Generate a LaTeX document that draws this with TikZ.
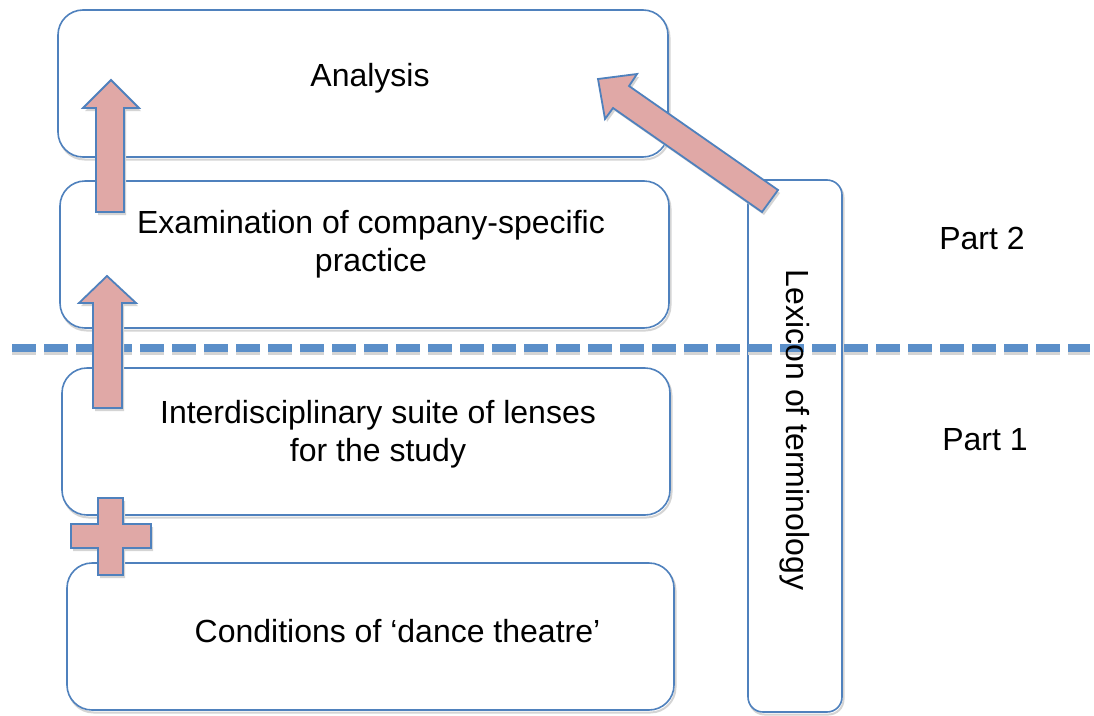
\documentclass[tikz,border=0pt]{standalone}
\usepackage{fontspec}
\setmainfont{Liberation Sans}
\usetikzlibrary{shadows}
\definecolor{boxblue}{RGB}{79,129,189}
\definecolor{dashblue}{RGB}{91,143,201}
\definecolor{arrowpink}{RGB}{224,168,166}
\definecolor{shadowgray}{RGB}{212,212,212}
\begin{document}
\begin{tikzpicture}[x=1pt,y=-1pt,
  stagebox/.style={draw=boxblue, line width=1.6pt, fill=white, rounded corners=25pt, inner sep=0pt,
    general shadow={draw=shadowgray, line width=2pt, shadow xshift=1.5pt, shadow yshift=-2.5pt}},
  lexbox/.style={stagebox, rounded corners=15pt},
  txt/.style={font=\fontsize{32}{38}\selectfont, align=center, inner sep=0pt},
  blockarrow/.style={fill=arrowpink, draw=boxblue, line width=1.8pt, line join=miter},
  arrowshadow/.style={fill=shadowgray, draw=none},
  dashline/.style={draw=dashblue, line width=8pt, dash pattern=on 24pt off 8pt},
  dashshadow/.style={draw=shadowgray, line width=8pt, dash pattern=on 24pt off 8pt}]
\useasboundingbox (0,0) rectangle (1094,715);
% boxes
\node[stagebox, minimum width=610pt, minimum height=147pt] (analysis) at (363,83.5) {};
\node[stagebox, minimum width=609pt, minimum height=147pt] (exam) at (364.5,254.5) {};
\node[stagebox, minimum width=608pt, minimum height=147pt] (inter) at (366,441.5) {};
\node[stagebox, minimum width=607pt, minimum height=147pt] (cond) at (370.5,636.5) {};
\node[lexbox, minimum width=94pt, minimum height=532pt] (lexicon) at (795,446) {};
% dashed separator
\coordinate (dashL) at (12,348);
\coordinate (dashR) at (1090,348);
\draw[dashshadow] ([shift={(0pt,-3pt)}]dashL) -- ([shift={(0pt,-3pt)}]dashR);
\draw[dashline] (dashL) -- (dashR);
% texts
\node[txt] (analysisText) at (370,78) {Analysis};
\node[txt] (examText) at (371,244) {Examination of company-specific\\practice};
\node[txt] (interText) at (378,434) {Interdisciplinary suite of lenses\\for the study};
\node[txt] (condText) at (397.5,631) {Conditions of ‘dance theatre’};
\node[txt, rotate=-90] (lexText) at (795,430) {Lexicon of terminology};
\node[txt] (part2) at (982,238) {Part 2};
\node[txt] (part1) at (985,440) {Part 1};
% block arrows (shadows)
\begin{scope}[shift={(2,3)}]
\fill[arrowshadow] (96,212) -- (96,108) -- (83,108) -- (111,80) -- (139,108) -- (124,108) -- (124,212) -- cycle;
\fill[arrowshadow] (93,408) -- (93,303) -- (79,303) -- (107,276) -- (136,303) -- (122,303) -- (122,408) -- cycle;
\fill[arrowshadow] (98,498) -- (123,498) -- (123,524) -- (151,524) -- (151,548) -- (123,548) -- (123,575) -- (98,575) -- (98,548) -- (71,548) -- (71,524) -- (98,524) -- cycle;
\fill[arrowshadow] (598,79) -- (637,74) -- (629,86) -- (778,190) -- (762,212) -- (613,108) -- (605,119) -- cycle;
\end{scope}
% block arrows
\draw[blockarrow] (96,212) -- (96,108) -- (83,108) -- (111,80) -- (139,108) -- (124,108) -- (124,212) -- cycle;
\draw[blockarrow] (93,408) -- (93,303) -- (79,303) -- (107,276) -- (136,303) -- (122,303) -- (122,408) -- cycle;
\draw[blockarrow] (98,498) -- (123,498) -- (123,524) -- (151,524) -- (151,548) -- (123,548) -- (123,575) -- (98,575) -- (98,548) -- (71,548) -- (71,524) -- (98,524) -- cycle;
\draw[blockarrow] (598,79) -- (637,74) -- (629,86) -- (778,190) -- (762,212) -- (613,108) -- (605,119) -- cycle;
\end{tikzpicture}
\end{document}
